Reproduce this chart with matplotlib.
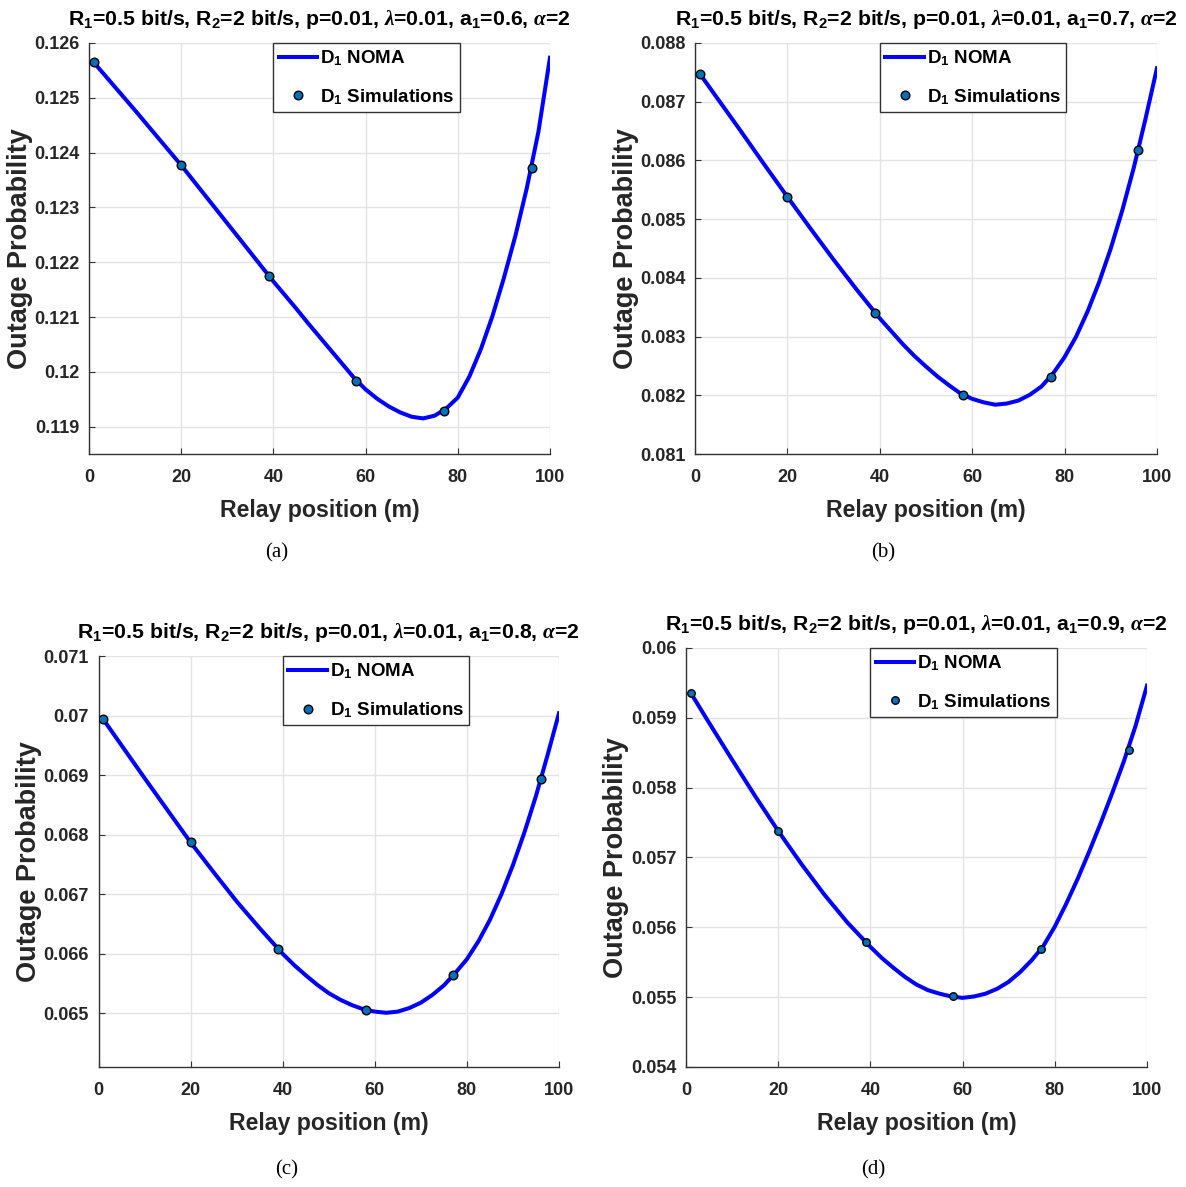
#!/usr/bin/env python3
''' Outage probability of D1 versus relay position, four power splits. '''

import matplotlib
matplotlib.use('Agg')
import matplotlib.pyplot as plt


# relay positions where the analytic curve was read (m)
relay_pos = [1, 5, 10, 15, 20, 25, 30, 35, 40, 42.5, 45, 47.5, 50, 52.5, 55, 57.5, 60, 62.5, 65,
	67.5, 70, 72.5, 75, 77.5, 80, 82.5, 85, 87.5, 90, 92.5, 95, 97.5, 100]
# relay positions of the Monte Carlo points (m)
sim_pos = [1, 20, 39, 58, 77, 96]

a1_values = ['0.6', '0.7', '0.8', '0.9']

noma_a = [0.12565, 0.12526, 0.12477, 0.12427, 0.12377, 0.12324, 0.12271, 0.12218,
	0.12165, 0.12140, 0.12115, 0.12089, 0.12064, 0.12039, 0.12014, 0.11989, 0.11968, 0.11951, 0.11937,
	0.11926, 0.11918, 0.11915, 0.11920, 0.11933, 0.11953, 0.11991, 0.12041, 0.12101, 0.12171, 0.12248,
	0.12336, 0.12438, 0.12573]
noma_b = [0.08748, 0.08704, 0.08649, 0.08593, 0.08538, 0.08484, 0.08431, 0.08380,
	0.08331, 0.08309, 0.08287, 0.08267, 0.08249, 0.08232, 0.08217, 0.08203, 0.08194, 0.08188, 0.08184,
	0.08186, 0.08191, 0.08201, 0.08215, 0.08237, 0.08265, 0.08300, 0.08343, 0.08393, 0.08450, 0.08515,
	0.08588, 0.08670, 0.08757]
noma_c = [0.06994, 0.06950, 0.06895, 0.06841, 0.06787, 0.06737, 0.06688, 0.06643,
	0.06600, 0.06581, 0.06564, 0.06548, 0.06534, 0.06523, 0.06514, 0.06507, 0.06503, 0.06501, 0.06503,
	0.06509, 0.06518, 0.06531, 0.06547, 0.06568, 0.06591, 0.06621, 0.06657, 0.06700, 0.06749, 0.06804,
	0.06865, 0.06933, 0.07004]
noma_d = [0.05936, 0.05893, 0.05840, 0.05788, 0.05738, 0.05691, 0.05647, 0.05607,
	0.05572, 0.05556, 0.05542, 0.05529, 0.05518, 0.05510, 0.05505, 0.05501, 0.05499, 0.05501, 0.05505,
	0.05512, 0.05522, 0.05536, 0.05553, 0.05573, 0.05601, 0.05634, 0.05670, 0.05709, 0.05750, 0.05793,
	0.05838, 0.05888, 0.05946]

sim_a = [0.12565, 0.12377, 0.12175, 0.11984, 0.11929, 0.12372]
sim_b = [0.08748, 0.08538, 0.08340, 0.08201, 0.08232, 0.08617]
sim_c = [0.06994, 0.06787, 0.06608, 0.06506, 0.06564, 0.06893]
sim_d = [0.05936, 0.05738, 0.05579, 0.05501, 0.05569, 0.05854]

y_limits = [(0.1185, 0.126), (0.081, 0.088), (0.0641, 0.071), (0.054, 0.060)]
y_ticks = [
	[0.119, 0.12, 0.121, 0.122, 0.123, 0.124, 0.125, 0.126],
	[0.081, 0.082, 0.083, 0.084, 0.085, 0.086, 0.087, 0.088],
	[0.065, 0.066, 0.067, 0.068, 0.069, 0.07, 0.071],
	[0.054, 0.055, 0.056, 0.057, 0.058, 0.059, 0.06],
]
captions = ['(a)', '(b)', '(c)', '(d)']

plt.rcParams['font.family'] = 'Liberation Sans'
plt.rcParams['font.weight'] = 'bold'
plt.rcParams['axes.labelweight'] = 'bold'
plt.rcParams['axes.titleweight'] = 'bold'
plt.rcParams['mathtext.fontset'] = 'custom'
plt.rcParams['mathtext.rm'] = 'Liberation Sans:bold'
plt.rcParams['mathtext.bf'] = 'Liberation Sans:bold'
plt.rcParams['mathtext.it'] = 'Liberation Serif:italic'


def draw_panel(ax, noma, sim, a1, ylim, yticks, marker_size):
	'''One subplot: analytic curve plus simulation points.'''
	ax.plot(relay_pos, noma, color=(0, 0, 1), lw=2.9, label=r'D$_1$ NOMA', zorder=3,
		solid_joinstyle='round')
	ax.plot(sim_pos, sim, 'o', ms=marker_size, mfc='#0072BD', mec='k', mew=1.0,
		label=r'D$_1$ Simulations', zorder=4)
	ax.set_xlim(0, 100)
	ax.set_ylim(*ylim)
	ax.set_xticks([0, 20, 40, 60, 80, 100])
	ax.set_yticks(yticks)
	ax.set_yticklabels([f'{t:g}' for t in yticks])
	ax.grid(True, color='#e3e3e3', lw=1.0)
	ax.set_axisbelow(True)
	for side in ['top', 'right']:
		ax.spines[side].set_visible(False)
	for side in ['left', 'bottom']:
		ax.spines[side].set_color('0.2')
		ax.spines[side].set_linewidth(1.0)
	ax.tick_params(direction='in', length=4, width=0.8, color='0.2', labelsize=13, pad=7,
		labelcolor='0.15')
	ax.tick_params(axis='x', pad=11)
	ax.set_xlabel('Relay position (m)', fontsize=16.7, color='0.15', labelpad=9)
	ax.set_ylabel('Outage Probability', fontsize=19.5, color='0.15', labelpad=1)
	ax.set_title(r'R$_1$=0.5 bit/s, R$_2$=2 bit/s, p=0.01, $\lambda$=0.01, a$_1$=' + a1 + r', $\alpha$=2',
		fontsize=15.3, pad=13)
	leg = ax.legend(loc='upper left', bbox_to_anchor=(0.40, 1.0), borderaxespad=0, fontsize=13.5,
		handlelength=2.05, handletextpad=0.15, borderpad=0.3, labelspacing=1.0, fancybox=False,
		framealpha=1, edgecolor='0.2')
	leg.get_frame().set_linewidth(1.0)


fig = plt.figure(figsize=(11.86, 11.87), dpi=100)
positions = [
	[0.0750, 0.6175, 0.3887, 0.3463],
	[0.5860, 0.6175, 0.3895, 0.3463],
	[0.0831, 0.1011, 0.3882, 0.3462],
	[0.5784, 0.1011, 0.3887, 0.3530],
]
all_noma = [noma_a, noma_b, noma_c, noma_d]
all_sim = [sim_a, sim_b, sim_c, sim_d]
marker_sizes = [6.2, 6.2, 6.2, 5.4]
for i in range(4):
	ax = fig.add_axes(positions[i])
	draw_panel(ax, all_noma[i], all_sim[i], a1_values[i], y_limits[i], y_ticks[i], marker_sizes[i])

caption_xy = [(0.2336, 0.534), (0.7445, 0.534), (0.2415, 0.0145), (0.7365, 0.0145)]
for (cx, cy), cap in zip(caption_xy, captions):
	fig.text(cx, cy, cap, ha='center', va='center', fontsize=15, family='Liberation Serif',
		weight='normal')

fig.savefig('out.png', dpi=100)
